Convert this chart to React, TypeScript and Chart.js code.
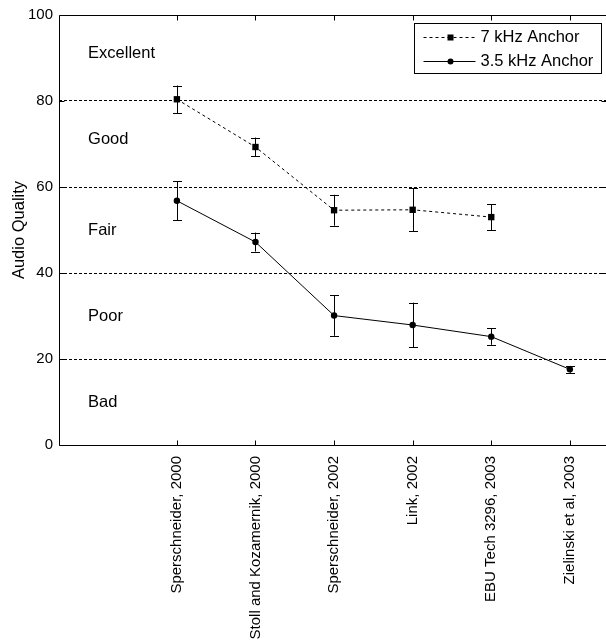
import React, { useEffect, useRef } from "react";
import { Chart, registerables } from "chart.js";

Chart.register(...registerables);

const categories = [
  "Sperschneider, 2000",
  "Stoll and Kozamernik, 2000",
  "Sperschneider, 2002",
  "Link, 2002",
  "EBU Tech 3296, 2003",
  "Zielinski et al, 2003",
];
const categoryPositions = [1.5, 2.5, 3.5, 4.5, 5.5, 6.5];
const anchor7Values = [80.4, 69.3, 54.6, 54.7, 53.0];
const anchor7Errors = [3.2, 2.2, 3.6, 5.0, 3.0];
const anchor35Values = [56.8, 47.2, 30.1, 27.9, 25.2, 17.6];
const anchor35Errors = [4.5, 2.2, 4.7, 5.2, 1.9, 0.8];
const yTicks = [0, 20, 40, 60, 80, 100];
const qualityLabels = ["Excellent", "Good", "Fair", "Poor", "Bad"];
const qualityLevels = [91, 71, 50, 30, 10];
const seriesNames = ["7 kHz Anchor", "3.5 kHz Anchor"];

const FONT = "'Liberation Sans', Arial, Helvetica, sans-serif";

const decorPlugin = {
  id: "decor",
  beforeDatasetsDraw(chart: any) {
    const { ctx } = chart;
    const x = chart.scales.x;
    const y = chart.scales.y;
    ctx.save();
    ctx.fillStyle = "#000";
    ctx.font = `16.5px ${FONT}`;
    ctx.textAlign = "left";
    ctx.textBaseline = "middle";
    qualityLabels.forEach((t, i) => {
      ctx.fillText(t, x.getPixelForValue(0.37), y.getPixelForValue(qualityLevels[i]));
    });
    ctx.restore();
  },
  afterDatasetsDraw(chart: any) {
    const { ctx, chartArea } = chart;
    const x = chart.scales.x;
    const y = chart.scales.y;
    ctx.save();
    ctx.strokeStyle = "#000";
    ctx.lineWidth = 1;
    ctx.setLineDash([]);
    // error bars
    chart.data.datasets.forEach((ds: any) => {
      const errs: number[] = ds.errors || [];
      ds.data.forEach((p: any, i: number) => {
        const px = Math.round(x.getPixelForValue(p.x)) + 0.5;
        const yt = y.getPixelForValue(p.y + errs[i]);
        const yb = y.getPixelForValue(p.y - errs[i]);
        ctx.beginPath();
        ctx.moveTo(px, yt);
        ctx.lineTo(px, yb);
        ctx.moveTo(px - 4.5, Math.round(yt) + 0.5);
        ctx.lineTo(px + 4.5, Math.round(yt) + 0.5);
        ctx.moveTo(px - 4.5, Math.round(yb) + 0.5);
        ctx.lineTo(px + 4.5, Math.round(yb) + 0.5);
        ctx.stroke();
      });
    });
    // axes box
    const L = Math.round(chartArea.left) + 0.5;
    const R = Math.round(chartArea.right) + 0.5;
    const T = Math.round(chartArea.top) + 0.5;
    const B = Math.round(chartArea.bottom) + 0.5;
    ctx.beginPath();
    ctx.moveTo(L, T);
    ctx.lineTo(R, T);
    ctx.lineTo(R, B);
    ctx.lineTo(L, B);
    ctx.closePath();
    ctx.stroke();
    // inward ticks
    ctx.beginPath();
    categoryPositions.forEach((v) => {
      const px = Math.round(x.getPixelForValue(v)) + 0.5;
      ctx.moveTo(px, B);
      ctx.lineTo(px, B - 5);
      ctx.moveTo(px, T);
      ctx.lineTo(px, T + 5);
    });
    yTicks.forEach((v) => {
      const py = Math.round(y.getPixelForValue(v)) + 0.5;
      ctx.moveTo(L, py);
      ctx.lineTo(L + 5, py);
      ctx.moveTo(R, py);
      ctx.lineTo(R - 5, py);
    });
    ctx.stroke();
    ctx.restore();
  },
  afterDraw(chart: any) {
    const { ctx, chartArea } = chart;
    const bw = 187;
    const bh = 50;
    const bx = Math.round(chartArea.right - 5 - bw) + 0.5;
    const by = Math.round(chartArea.top + 8) + 0.5;
    ctx.save();
    ctx.fillStyle = "#fff";
    ctx.fillRect(bx, by, bw, bh);
    ctx.strokeStyle = "#000";
    ctx.lineWidth = 1;
    ctx.strokeRect(bx, by, bw, bh);
    ctx.font = `16.5px ${FONT}`;
    ctx.textAlign = "left";
    ctx.textBaseline = "middle";
    chart.data.datasets.forEach((ds: any, i: number) => {
      const cy = Math.round(by + 13 + i * 24.3) + 0.5;
      ctx.setLineDash(ds.borderDash || []);
      ctx.beginPath();
      ctx.moveTo(bx + 9, cy);
      ctx.lineTo(bx + 61, cy);
      ctx.stroke();
      ctx.setLineDash([]);
      ctx.fillStyle = "#000";
      const mx = bx + 36;
      if (ds.pointStyle === "rect") {
        ctx.fillRect(mx - 3, cy - 3, 6, 6);
      } else {
        ctx.beginPath();
        ctx.arc(mx, cy, 3, 0, Math.PI * 2);
        ctx.fill();
      }
      ctx.fillText(ds.label, bx + 66, cy);
    });
    ctx.restore();
  },
};

export default function App() {
  const canvasRef = useRef<HTMLCanvasElement | null>(null);

  useEffect(() => {
    const canvas = canvasRef.current;
    if (!canvas) return;
    const chart = new Chart(canvas, {
      type: "line",
      data: {
        datasets: [
          {
            label: seriesNames[0],
            data: anchor7Values.map((v, i) => ({ x: categoryPositions[i], y: v })),
            errors: anchor7Errors,
            borderColor: "#000",
            borderWidth: 1,
            borderDash: [3, 3],
            pointStyle: "rect",
            pointRadius: 4.5,
            pointBackgroundColor: "#000",
            pointBorderColor: "#000",
            pointBorderWidth: 0,
            fill: false,
            tension: 0,
          } as any,
          {
            label: seriesNames[1],
            data: anchor35Values.map((v, i) => ({ x: categoryPositions[i], y: v })),
            errors: anchor35Errors,
            borderColor: "#000",
            borderWidth: 1,
            pointStyle: "circle",
            pointRadius: 3.2,
            pointBackgroundColor: "#000",
            pointBorderColor: "#000",
            pointBorderWidth: 0,
            fill: false,
            tension: 0,
          } as any,
        ],
      },
      options: {
        responsive: false,
        animation: false,
        devicePixelRatio: 1,
        layout: { autoPadding: false, padding: { top: 13, right: 0, left: 0, bottom: 0 } },
        plugins: {
          legend: { display: false },
          tooltip: { enabled: false },
        },
        scales: {
          x: {
            type: "linear",
            min: 0,
            max: 6.96,
            afterBuildTicks: (s: any) => {
              s.ticks = categoryPositions.map((v) => ({ value: v }));
            },
            afterFit: (s: any) => {
              s.height = 198;
              s.paddingLeft = 0;
              s.paddingRight = 0;
            },
            ticks: {
              autoSkip: false,
              minRotation: 90,
              maxRotation: 90,
              padding: 11,
              color: "#000",
              font: { family: FONT, size: 15 },
              callback: (_v: any, i: number) => categories[i],
            },
            grid: { display: false, drawTicks: false },
            border: { display: false },
          },
          y: {
            type: "linear",
            min: 0,
            max: 100,
            afterBuildTicks: (s: any) => {
              s.ticks = yTicks.map((v) => ({ value: v }));
            },
            afterFit: (s: any) => {
              s.width = 59;
            },
            ticks: {
              padding: 6,
              color: "#000",
              font: { family: FONT, size: 15 },
            },
            grid: {
              drawTicks: false,
              lineWidth: 1,
              color: (c: any) =>
                c.tick && (c.tick.value === 0 || c.tick.value === 100) ? "rgba(0,0,0,0)" : "#000",
            },
            border: { display: false, dash: [3, 2] },
            title: {
              display: true,
              text: "Audio Quality",
              color: "#000",
              font: { family: FONT, size: 16.5 },
              padding: { top: 9.5, bottom: 0 },
            },
          },
        },
      } as any,
      plugins: [decorPlugin],
    });
    return () => chart.destroy();
  }, []);

  return (
    <div style={{ position: "fixed", left: 0, top: 0, width: 606, height: 643, background: "#fff" }}>
      <canvas ref={canvasRef} width={606} height={643} style={{ display: "block" }} />
    </div>
  );
}
